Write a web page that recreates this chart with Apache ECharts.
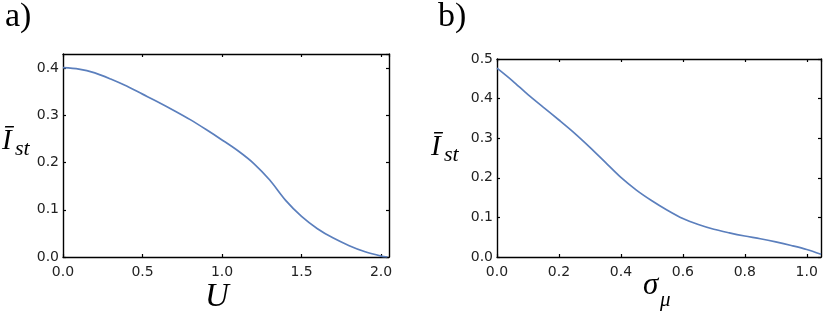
<!DOCTYPE html>
<html>
<head>
<meta charset="utf-8">
<script src="https://cdn.jsdelivr.net/npm/echarts@6/dist/echarts.min.js"></script>
<style>html,body{margin:0;padding:0;background:#fff}#c{width:830px;height:317px}</style>
</head>
<body>
<div id="c"></div>
<script>
// Panel a) : I_st vs U
const uValues = [0, 0.1, 0.2, 0.3, 0.4, 0.5, 0.6, 0.7, 0.8, 0.9, 1.0, 1.1, 1.2, 1.3, 1.4, 1.5, 1.6, 1.7, 1.8, 1.9, 2.0, 2.04];
const istA = [0.401, 0.398, 0.390, 0.377, 0.362, 0.345, 0.328, 0.310, 0.291, 0.270, 0.248, 0.225, 0.198, 0.163, 0.120, 0.086, 0.060, 0.040, 0.024, 0.011, 0.002, 0.000];
// Panel b) : I_st vs sigma_mu
const sigmaValues = [0, 0.05, 0.1, 0.15, 0.2, 0.25, 0.3, 0.35, 0.4, 0.45, 0.5, 0.55, 0.6, 0.65, 0.7, 0.75, 0.8, 0.85, 0.9, 0.95, 1.0, 1.046];
const istB = [0.477, 0.445, 0.410, 0.378, 0.346, 0.313, 0.277, 0.239, 0.201, 0.169, 0.142, 0.118, 0.097, 0.082, 0.070, 0.061, 0.053, 0.046, 0.038, 0.029, 0.019, 0.007];

const panelLabels = ['a)', 'b)'];
const xNames = ['U', 'σ', 'μ'];
const yName = ['Ī', 'st'];

const lineColor = '#5b7fbd';
const labelFont = {fontFamily: 'DejaVu Sans', fontSize: 14, color: '#222'};
const fmt = v => v.toFixed(1);

function xAx(grid, max, interval, pos, showLabels) {
  return {
    type: 'value', gridIndex: grid, position: pos, min: 0, max: max, interval: interval,
    axisLine: {show: true, onZero: false, lineStyle: {color: '#000', width: 1.4}},
    axisTick: {show: true, inside: true, length: 3, lineStyle: {color: '#000', width: 1.2}},
    axisLabel: Object.assign({show: showLabels, margin: 8, formatter: fmt, showMaxLabel: false}, labelFont),
    splitLine: {show: false}
  };
}
function yAx(grid, max, interval, pos, showLabels, showMax) {
  return {
    type: 'value', gridIndex: grid, position: pos, min: 0, max: max, interval: interval,
    axisLine: {show: true, onZero: false, lineStyle: {color: '#000', width: 1.4}},
    axisTick: {show: true, inside: true, length: 3, lineStyle: {color: '#000', width: 1.2}},
    axisLabel: Object.assign({show: showLabels, margin: 4, formatter: fmt, showMaxLabel: showMax}, labelFont),
    splitLine: {show: false}
  };
}

const chart = echarts.init(document.getElementById('c'), null, {renderer: 'canvas'});
chart.setOption({
  animation: false,
  backgroundColor: '#fff',
  grid: [
    {left: 63, top: 54, width: 326, height: 203},
    {left: 497, top: 59, width: 324, height: 198}
  ],
  xAxis: [
    xAx(0, 2.05, 0.5, 'bottom', true),
    xAx(0, 2.05, 0.5, 'top', false),
    xAx(1, 1.046, 0.2, 'bottom', true),
    xAx(1, 1.046, 0.2, 'top', false)
  ],
  yAxis: [
    yAx(0, 0.43, 0.1, 'left', true, false),
    yAx(0, 0.43, 0.1, 'right', false, false),
    yAx(1, 0.5, 0.1, 'left', true, true),
    yAx(1, 0.5, 0.1, 'right', false, true)
  ],
  series: [
    {type: 'line', xAxisIndex: 0, yAxisIndex: 0, data: uValues.map((u, i) => [u, istA[i]]),
     smooth: 0.3, showSymbol: false, lineStyle: {color: lineColor, width: 1.7}},
    {type: 'line', xAxisIndex: 2, yAxisIndex: 2, data: sigmaValues.map((s, i) => [s, istB[i]]),
     smooth: 0.3, showSymbol: false, lineStyle: {color: lineColor, width: 1.7}}
  ],
  graphic: [
    {type: 'text', left: 5, top: 0, style: {text: panelLabels[0], font: '34px "Liberation Serif"', fill: '#000'}},
    {type: 'text', left: 438, top: 0, style: {text: panelLabels[1], font: '34px "Liberation Serif"', fill: '#000'}},
    // y labels
    {type: 'text', x: 2, y: 127, style: {text: yName[0], font: 'italic 29px "Liberation Serif"', fill: '#000'}},
    {type: 'text', x: 15, y: 138, style: {text: yName[1], font: 'italic 22px "Liberation Serif"', fill: '#000'}},
    {type: 'text', x: 431, y: 133, style: {text: yName[0], font: 'italic 29px "Liberation Serif"', fill: '#000'}},
    {type: 'text', x: 444, y: 144, style: {text: yName[1], font: 'italic 22px "Liberation Serif"', fill: '#000'}},
    // x labels
    {type: 'text', x: 205, y: 281, style: {text: xNames[0], font: 'italic 33px "Liberation Serif"', fill: '#000'}},
    {type: 'text', x: 643, y: 270, style: {text: xNames[1], font: 'italic 31px "Liberation Serif"', fill: '#000'}},
    {type: 'text', x: 660, y: 290, style: {text: xNames[2], font: 'italic 21px "Liberation Serif"', fill: '#000'}}
  ]
});
</script>
</body>
</html>
